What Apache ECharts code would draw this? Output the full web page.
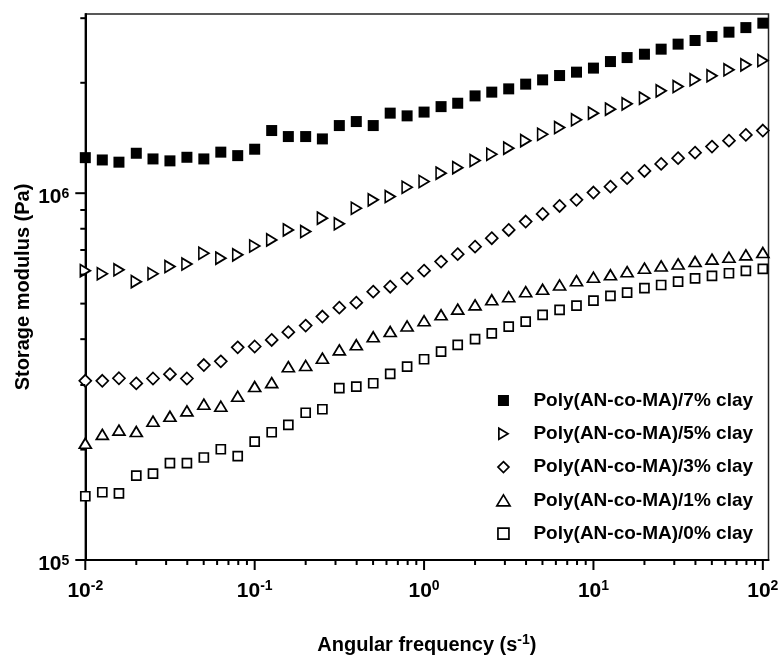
<!DOCTYPE html>
<html>
<head>
<meta charset="utf-8">
<script src="https://cdn.jsdelivr.net/npm/echarts@6/dist/echarts.min.js"></script>
<style>
html,body{margin:0;padding:0;background:#fff;}
#chart{width:779px;height:658px;}
</style>
</head>
<body>
<div id="chart"></div>
<script>
// Angular frequency (rad/s)
const freq = [0.01, 0.0126, 0.0158, 0.02, 0.0251, 0.0316, 0.0398, 0.0501, 0.0631, 0.0794,
  0.1, 0.126, 0.158, 0.2, 0.251, 0.316, 0.398, 0.501, 0.631, 0.794,
  1, 1.26, 1.58, 2, 2.51, 3.16, 3.98, 5.01, 6.31, 7.94,
  10, 12.6, 15.8, 20, 25.1, 31.6, 39.8, 50.1, 63.1, 79.4, 100];

// Storage modulus (Pa)
const clay7 = [1.25e6, 1.232e6, 1.215e6, 1.285e6, 1.24e6, 1.225e6, 1.253e6, 1.24e6, 1.294e6, 1.266e6,
  1.318e6, 1.482e6, 1.427e6, 1.427e6, 1.406e6, 1.529e6, 1.568e6, 1.529e6, 1.653e6, 1.625e6,
  1.664e6, 1.722e6, 1.759e6, 1.842e6, 1.886e6, 1.925e6, 1.983e6, 2.037e6, 2.093e6, 2.138e6,
  2.193e6, 2.285e6, 2.343e6, 2.393e6, 2.47e6, 2.549e6, 2.608e6, 2.673e6, 2.748e6, 2.828e6, 2.908e6];
const clay5 = [6.15e5, 6.03e5, 6.18e5, 5.74e5, 6.03e5, 6.31e5, 6.41e5, 6.86e5, 6.65e5, 6.79e5,
  7.18e5, 7.46e5, 7.94e5, 7.86e5, 8.55e5, 8.25e5, 9.10e5, 9.59e5, 9.79e5, 1.038e6,
  1.076e6, 1.134e6, 1.174e6, 1.227e6, 1.277e6, 1.327e6, 1.391e6, 1.448e6, 1.51e6, 1.585e6,
  1.653e6, 1.695e6, 1.752e6, 1.816e6, 1.901e6, 1.953e6, 2.037e6, 2.089e6, 2.169e6, 2.238e6, 2.299e6];
const clay3 = [3.08e5, 3.08e5, 3.13e5, 3.03e5, 3.125e5, 3.21e5, 3.125e5, 3.40e5, 3.48e5, 3.80e5,
  3.82e5, 3.98e5, 4.18e5, 4.355e5, 4.61e5, 4.875e5, 5.03e5, 5.39e5, 5.56e5, 5.86e5,
  6.15e5, 6.51e5, 6.82e5, 7.15e5, 7.54e5, 7.94e5, 8.37e5, 8.78e5, 9.23e5, 9.59e5,
  1.004e6, 1.042e6, 1.099e6, 1.15e6, 1.202e6, 1.246e6, 1.29e6, 1.34e6, 1.391e6, 1.442e6, 1.482e6];
const clay1 = [2.08e5, 2.20e5, 2.26e5, 2.24e5, 2.39e5, 2.465e5, 2.55e5, 2.66e5, 2.625e5, 2.795e5,
  2.97e5, 3.045e5, 3.365e5, 3.39e5, 3.55e5, 3.74e5, 3.86e5, 4.06e5, 4.195e5, 4.345e5,
  4.49e5, 4.66e5, 4.83e5, 4.96e5, 5.12e5, 5.22e5, 5.39e5, 5.47e5, 5.62e5, 5.775e5,
  5.90e5, 5.99e5, 6.11e5, 6.245e5, 6.335e5, 6.415e5, 6.51e5, 6.61e5, 6.69e5, 6.79e5, 6.89e5];
const clay0 = [1.492e5, 1.53e5, 1.52e5, 1.698e5, 1.72e5, 1.838e5, 1.838e5, 1.903e5, 2.004e5, 1.92e5,
  2.102e5, 2.23e5, 2.335e5, 2.52e5, 2.576e5, 2.94e5, 2.97e5, 3.033e5, 3.215e5, 3.366e5,
  3.526e5, 3.70e5, 3.86e5, 4.00e5, 4.15e5, 4.33e5, 4.465e5, 4.66e5, 4.805e5, 4.94e5,
  5.095e5, 5.25e5, 5.36e5, 5.51e5, 5.62e5, 5.74e5, 5.86e5, 5.95e5, 6.05e5, 6.14e5, 6.215e5];

const seriesNames = ['Poly(AN-co-MA)/7% clay', 'Poly(AN-co-MA)/5% clay', 'Poly(AN-co-MA)/3% clay',
  'Poly(AN-co-MA)/1% clay', 'Poly(AN-co-MA)/0% clay'];

// axis ranges and tick decades
const xRange = [0.01, 108];
const yRange = [1e5, 3.08e6];
const xDecades = [-2, -1, 0, 1, 2];
const yDecades = [5, 6];

const FONT = 'Liberation Sans, Arial, Helvetica, sans-serif';
const rightTri = 'path://M0,0 L10,6 L0,12 Z';
const squarePath = 'path://M0,0 L10,0 L10,10 L0,10 Z';
const diamondPath = 'path://M6,0 L12,6 L6,12 L0,6 Z';
const upTriPath = 'path://M6,0 L12,10 L0,10 Z';

function zip(y) { return freq.map((x, i) => [x, y[i]]); }

// axis tick marks (major & minor) drawn from the axis scales
const tickData = [];
xDecades.forEach(d => {
  const base = Math.pow(10, d);
  tickData.push([base, yRange[0], 0, 10]);
  for (let m = 2; m <= 9; m++) {
    const v = m * base;
    if (v <= xRange[1]) tickData.push([v, yRange[0], 0, 5]);
  }
});
yDecades.forEach(d => {
  const base = Math.pow(10, d);
  tickData.push([xRange[0], base, 1, 10]);
  for (let m = 2; m <= 9; m++) {
    const v = m * base;
    if (v <= yRange[1]) tickData.push([xRange[0], v, 1, 5]);
  }
});

function powLabel(v) {
  const l = Math.log10(v);
  const e = Math.round(l);
  if (Math.abs(l - e) > 1e-6) return '';
  return '{b|10}{s|' + e + '}';
}

const xLabelRich = {
  b: { fontSize: 21, fontWeight: 'bold', fontFamily: FONT, color: '#000', lineHeight: 24 },
  s: { fontSize: 14, fontWeight: 'bold', fontFamily: FONT, color: '#000', verticalAlign: 'top', lineHeight: 14 }
};
const yLabelRich = {
  b: { fontSize: 21, fontWeight: 'bold', fontFamily: FONT, color: '#000', lineHeight: 24, padding: [8, 0, 0, 0] },
  s: { fontSize: 14, fontWeight: 'bold', fontFamily: FONT, color: '#000', verticalAlign: 'top', lineHeight: 14, padding: [6, 0, 0, 0] }
};

const openStyle = { color: '#fff', borderColor: '#000', borderWidth: 1.7, opacity: 1 };

const chart = echarts.init(document.getElementById('chart'), null, { renderer: 'canvas' });
chart.setOption({
  animation: false,
  backgroundColor: '#fff',
  grid: {
    left: 85.3, right: 10.5, top: 14, bottom: 98, containLabel: false, outerBoundsMode: 'none',
    show: true, borderColor: '#222', borderWidth: 1.5, backgroundColor: 'transparent'
  },
  xAxis: {
    type: 'log', logBase: 10, min: xRange[0], max: xRange[1],
    axisLine: { show: true, lineStyle: { color: '#000', width: 2 } },
    axisTick: { show: false },
    splitLine: { show: false },
    axisLabel: { margin: 19, formatter: powLabel, rich: xLabelRich, showMaxLabel: false },
    name: 'Angular frequency (s{s|-1})',
    nameLocation: 'middle', nameGap: 73, nameMoveOverlap: false,
    nameTextStyle: {
      fontSize: 20, fontWeight: 'bold', fontFamily: FONT, color: '#000', lineHeight: 24,
      rich: { s: { fontSize: 14, fontWeight: 'bold', fontFamily: FONT, color: '#000', verticalAlign: 'top', lineHeight: 14 } }
    }
  },
  yAxis: {
    type: 'log', logBase: 10, min: yRange[0], max: yRange[1],
    axisLine: { show: true, lineStyle: { color: '#000', width: 2 } },
    axisTick: { show: false },
    splitLine: { show: false },
    axisLabel: { margin: 16, formatter: powLabel, rich: yLabelRich, showMaxLabel: false },
    name: 'Storage modulus (Pa)',
    nameLocation: 'middle', nameGap: 52, nameMoveOverlap: false,
    nameTextStyle: { fontSize: 20, fontWeight: 'bold', fontFamily: FONT, color: '#000' }
  },
  legend: {
    orient: 'vertical', left: 491, top: 386,
    itemWidth: 50, itemHeight: 11, itemGap: 14.3, symbolKeepAspect: true,
    textStyle: { fontSize: 19, fontWeight: 'bold', fontFamily: FONT, color: '#000' },
    data: [
      { name: seriesNames[0], icon: squarePath, itemStyle: { color: '#000', borderWidth: 0, opacity: 1 } },
      { name: seriesNames[1], icon: rightTri, itemStyle: openStyle },
      { name: seriesNames[2], icon: diamondPath, itemStyle: openStyle },
      { name: seriesNames[3], icon: upTriPath, itemStyle: openStyle },
      { name: seriesNames[4], icon: squarePath, itemStyle: openStyle }
    ]
  },
  series: [
    { name: seriesNames[0], type: 'scatter', symbol: 'rect', symbolSize: 11, itemStyle: { color: '#000', opacity: 1 }, data: zip(clay7) },
    { name: seriesNames[1], type: 'scatter', symbol: rightTri, symbolSize: [10, 12], itemStyle: openStyle, data: zip(clay5) },
    { name: seriesNames[2], type: 'scatter', symbol: 'diamond', symbolSize: 12, itemStyle: openStyle, data: zip(clay3) },
    { name: seriesNames[3], type: 'scatter', symbol: 'triangle', symbolSize: [12, 10], itemStyle: openStyle, data: zip(clay1) },
    { name: seriesNames[4], type: 'scatter', symbol: 'rect', symbolSize: 9, itemStyle: openStyle, data: zip(clay0) },
    {
      type: 'custom', silent: true, clip: false, z: 5,
      data: tickData,
      renderItem: function (params, api) {
        const p = api.coord([api.value(0), api.value(1)]);
        const t = api.value(2), len = api.value(3);
        const shape = t === 0
          ? { x1: p[0], y1: p[1], x2: p[0], y2: p[1] + len }
          : { x1: p[0] - len, y1: p[1], x2: p[0], y2: p[1] };
        return { type: 'line', shape: shape, style: { stroke: '#000', lineWidth: 2 } };
      }
    }
  ]
});
</script>
</body>
</html>
